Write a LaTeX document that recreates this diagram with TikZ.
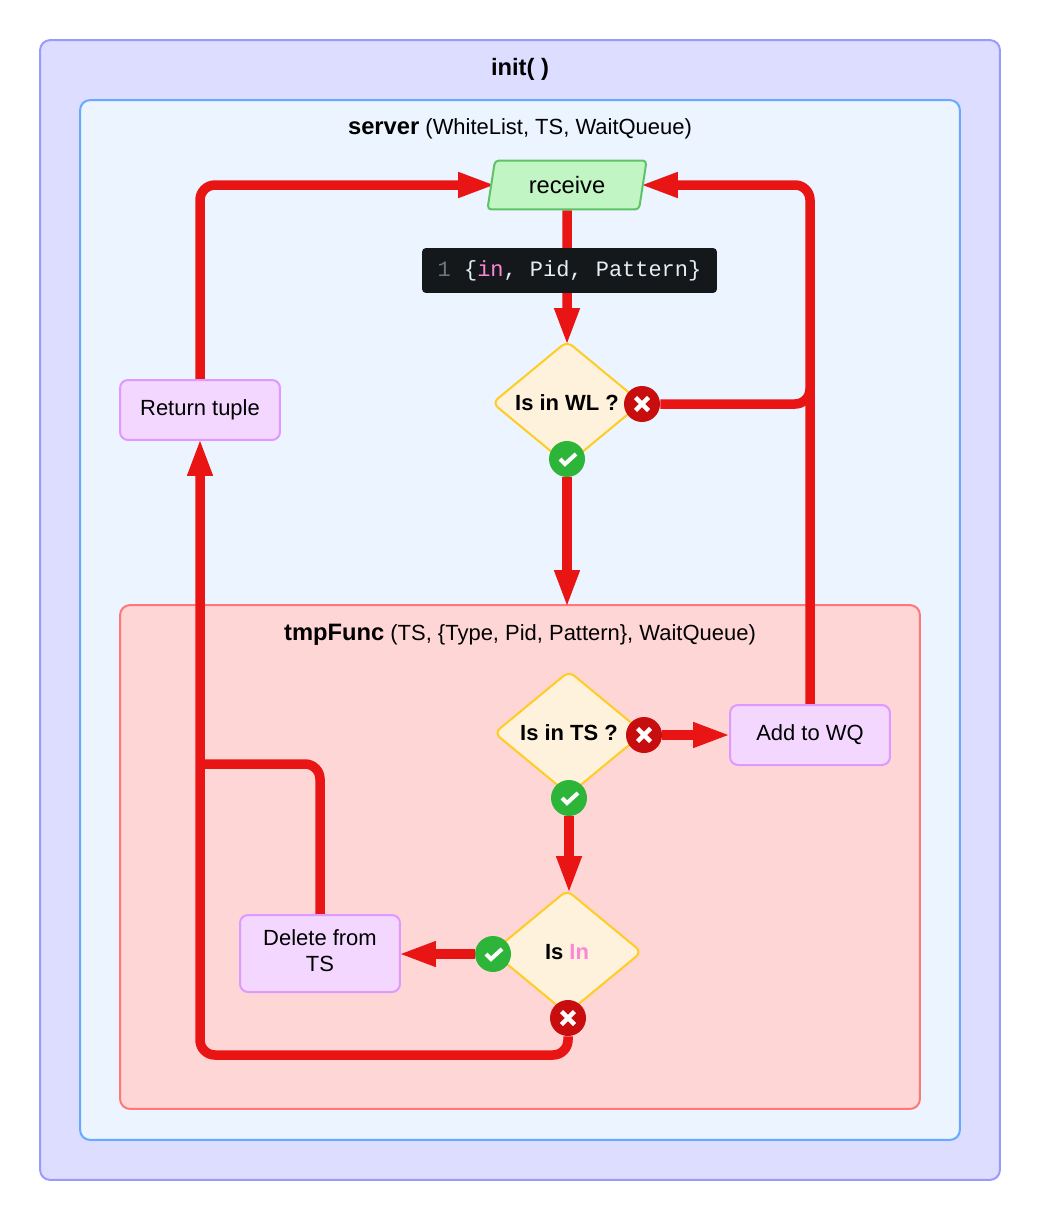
\documentclass[tikz,border=0pt]{standalone}
\usepackage{fontspec}
\setmainfont{Liberation Sans}
\setmonofont{Liberation Mono}
\usepackage{xcolor}
\usetikzlibrary{arrows.meta,positioning,shapes.geometric}
\definecolor{InitFill}{HTML}{DDDDFF}
\definecolor{InitLine}{HTML}{9999FF}
\definecolor{ServerFill}{HTML}{EBF4FF}
\definecolor{ServerLine}{HTML}{66AAFF}
\definecolor{FuncFill}{HTML}{FFD6D6}
\definecolor{FuncLine}{HTML}{FF7777}
\definecolor{StepFill}{HTML}{F3D7FF}
\definecolor{StepLine}{HTML}{DD99FF}
\definecolor{AskFill}{HTML}{FFF2DC}
\definecolor{AskLine}{HTML}{FFCC22}
\definecolor{RecvFill}{HTML}{C2F5C4}
\definecolor{RecvLine}{HTML}{5CC466}
\definecolor{Flow}{HTML}{E91414}
\definecolor{OkGreen}{HTML}{2DB53A}
\definecolor{NoRed}{HTML}{C70D0D}
\definecolor{CodeBg}{HTML}{14181B}
\definecolor{CodeText}{HTML}{E6EDF3}
\definecolor{CodeNum}{HTML}{6E7681}
\definecolor{Pink}{HTML}{FF85D8}
\pgfdeclarelayer{boxes}
\pgfdeclarelayer{edges}
\pgfsetlayers{boxes,edges,main}
\newcommand{\titlebold}[1]{{\fontsize{13.5}{14.7}\selectfont\bfseries #1}}
\tikzset{
 every node/.style={font=\fontsize{12.5}{14.7}\selectfont},
 frame/.style={rectangle, rounded corners=0.2cm, line width=0.04cm, inner sep=0},
 stepbox/.style={rectangle, draw=StepLine, fill=StepFill, line width=0.04cm, rounded corners=0.16cm, minimum width=3.2cm, minimum height=1.2cm, align=center, inner sep=0},
 ask/.style={diamond, draw=AskLine, fill=AskFill, line width=0.04cm, rounded corners=0.14cm, minimum width=3cm, minimum height=2.48cm, aspect=1.2, inner sep=0, font=\fontsize{12.5}{14.7}\selectfont\bfseries},
 okbadge/.style={circle, fill=OkGreen, minimum size=0.72cm, inner sep=0, path picture={\draw[white, line width=0.08cm, shift={(path picture bounding box.center)}] (-7,0) -- (-2,5) -- (9,-5);}},
 nobadge/.style={circle, fill=NoRed, minimum size=0.72cm, inner sep=0, path picture={\draw[white, line width=0.09cm, shift={(path picture bounding box.center)}] (-6.5,-6.5) -- (6.5,6.5) (-6.5,6.5) -- (6.5,-6.5);}},
 flow/.style={draw=Flow, line width=0.19cm, rounded corners=0.3cm},
 flowarrow/.style={flow, -{Triangle[length=0.76cm,width=0.46cm]}, shorten >=-0.08cm}
}
\begin{document}
\begin{tikzpicture}[x=0.02cm,y=-0.02cm]
\begin{pgfonlayer}{boxes}
\path[use as bounding box, fill=white] (0,0) rectangle (1040,1220);
\node[frame,draw=InitLine,fill=InitFill,minimum width=19.2cm,minimum height=22.8cm] (init) at (520,610) {};
\node[frame,draw=ServerLine,fill=ServerFill,minimum width=17.6cm,minimum height=20.8cm] (server) at (520,620) {};
\node[frame,draw=FuncLine,fill=FuncFill,minimum width=16cm,minimum height=10.08cm] (tmpfunc) at (520,857) {};
\end{pgfonlayer}
\node (inittitle) at (520,69) {\titlebold{init( )}};
\node (servertitle) at (520,129) {\titlebold{server} (WhiteList, TS, WaitQueue)};
\node (functitle) at (520,635) {\titlebold{tmpFunc} (TS, \{Type, Pid, Pattern\}, WaitQueue)};
% server part
\node[trapezium,trapezium left angle=77,trapezium right angle=103,trapezium stretches=true,draw=RecvLine,fill=RecvFill,line width=0.04cm,rounded corners=0.08cm,minimum width=3.2cm,minimum height=0.98cm,inner sep=0,font=\fontsize{13.5}{14.7}\selectfont] (receive) at (567,185) {receive};
\node[fill=CodeBg,rounded corners=0.08cm,minimum width=5.9cm,minimum height=0.9cm,inner sep=0,text=CodeText] (code) at (569.5,270.5) {\ttfamily\textcolor{CodeNum}{1} \{\textcolor{Pink}{in}, Pid, Pattern\}};
\node[ask] (inwl) at (567,403) {Is in WL ?};
\node[nobadge] (wlno) at (642,404) {};
\node[okbadge] (wlok) at (567,459) {};
\node[stepbox] (back) at (200,410) {Return tuple};
% tmpFunc part
\node[ask] (ints) at (569,733) {Is in TS ?};
\node[nobadge] (tsno) at (644,735) {};
\node[okbadge] (tsok) at (569,798) {};
\node[stepbox] (addwq) at (810,735) {Add to WQ};
\node[ask] (isin) at (567,952) {Is \textcolor{Pink}{In}};
\node[okbadge] (inok) at (493,954) {};
\node[nobadge] (inno) at (568,1018) {};
\node[stepbox,minimum height=1.54cm,text depth=0.12cm] (delete) at (320,953.5) {Delete from\\TS};
\coordinate (join) at (200,764);
\coordinate (rightjoin) at (810,389);
\coordinate (bottomturn) at (200,1055);
\begin{pgfonlayer}{edges}
\draw[flowarrow,shorten >=-0.12cm] (receive) -- (inwl);
\draw[flowarrow,shorten >=-0.12cm] (back) |- (receive.west);
\draw[flowarrow] (addwq) |- (receive.east);
\draw[flow] (wlno) -| (rightjoin);
\draw[flowarrow] (wlok) -- (wlok |- tmpfunc.north);
\draw[flowarrow,shorten >=-0.04cm] (tsno) -- (addwq.west |- tsno);
\draw[flowarrow,shorten >=-0.1cm] (tsok) -- (tsok |- isin.north);
\draw[flowarrow,shorten >=-0.06cm] (inok) -- (delete.east |- inok);
\draw[flowarrow,shorten >=-0.06cm] (inno) |- (bottomturn) -- (back.south);
\draw[flow] (delete) |- (join);
\end{pgfonlayer}
\end{tikzpicture}
\end{document}
